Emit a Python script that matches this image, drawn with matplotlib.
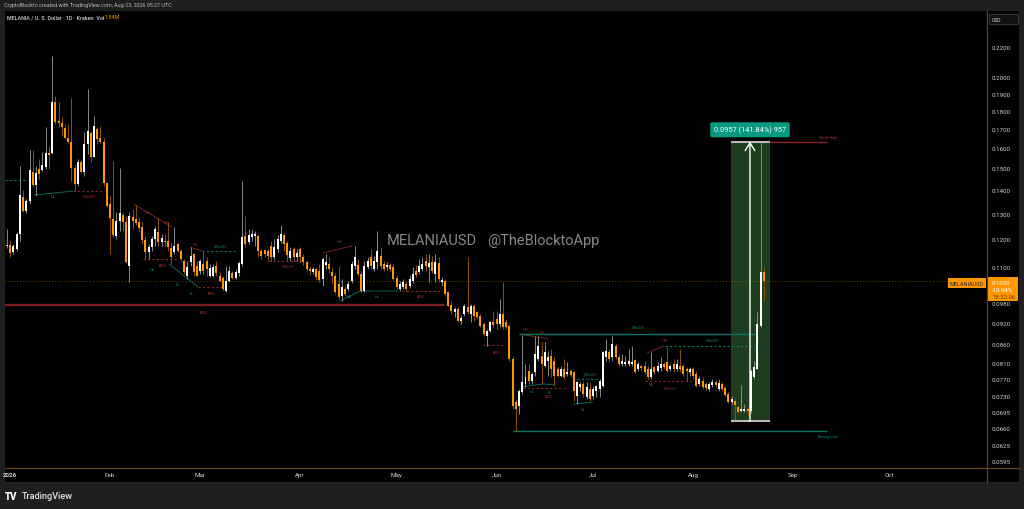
import numpy as np
import pandas as pd
import matplotlib
matplotlib.use('Agg')
import matplotlib.pyplot as plt
import matplotlib.dates as mdates
from matplotlib.patches import Rectangle
from matplotlib.lines import Line2D
from matplotlib.ticker import FixedLocator, FixedFormatter, NullLocator

plt.rcParams['font.family'] = ['Roboto', 'DejaVu Sans']

# ---------------- data ----------------
start_date = '2025-12-31'   # first daily candle
opens = [
    .1174, .1177, .1152, .1163, .1219, .1370, .1311, .1353, .1483, .1423,
    .1497, .1492, .1507, .1575, .1575, .1850, .1742, .1731, .1704, .1651,
    .1630, .1502, .1428, .1531, .1483, .1620, .1677, .1555, .1699, .1651,
    .1630, .1432, .1340, .1278, .1212, .1270, .1295, .1266, .1102, .1287,
    .1278, .1266, .1246, .1196, .1152, .1170, .1200, .1227, .1188, .1192,
    .1192, .1167, .1152, .1181, .1155, .1119, .1067, .1116, .1144, .1102,
    .1084, .1109, .1119, .1067, .1067, .1102, .1067, .1060, .1018, .1051,
    .1077, .1060, .1077, .1109, .1212, .1188, .1208, .1212, .1212, .1155,
    .1159, .1155, .1174, .1133, .1163, .1192, .1215, .1185, .1130, .1163,
    .1133, .1163, .1133, .1116, .1091, .1081, .1091, .1084, .1057, .1105,
    .1109, .1081, .1067, .1041, .1002, .1025, .1025, .1051, .1102, .1105,
    .1074, .1018, .1098, .1133, .1091, .1116, .1137, .1109, .1098, .1105,
    .1098, .1060, .1025, .1031, .1041, .1034, .1051, .1084, .1081, .1091,
    .1119, .1098, .1116, .1074, .1112, .1047, .1051, .1015, .0974, .0953,
    .0962, .0926, .0947, .0968, .0947, .0971, .0953, .0941, .0917, .0883,
    .0897, .0923, .0932, .0917, .0947, .0923, .0911, .0821, .0717, .0708,
    .0740, .0759, .0791, .0766, .0788, .0821, .0829, .0803, .0816, .0829,
    .0816, .0796, .0778, .0796, .0783, .0791, .0788, .0730, .0752, .0759,
    .0728, .0747, .0730, .0742, .0747, .0754, .0826, .0840, .0826, .0856,
    .0826, .0808, .0808, .0808, .0808, .0818, .0796, .0803, .0803, .0796,
    .0776, .0801, .0791, .0798, .0808, .0813, .0796, .0808, .0796, .0803,
    .0803, .0796, .0788, .0796, .0783, .0759, .0766, .0759, .0747, .0757,
    .0764, .0747, .0759, .0749, .0735, .0717, .0719, .0705, .0697, .0697,
    .0701, .0697, .0776, .0796, .0911, .1081,
]
highs = [
    .1238, .1196, .1181, .1227, .1511, .1401, .1362, .1590, .1590, .1511,
    .1545, .1580, .1710, .1610, .2139, .1885, .1850, .1764, .1726, .1726,
    .1874, .1521, .1545, .1540, .1683, .1927, .1688, .1770, .1710, .1715,
    .1651, .1437, .1374, .1535, .1307, .1502, .1307, .1291, .1307, .1319,
    .1336, .1287, .1266, .1212, .1181, .1212, .1250, .1282, .1219, .1219,
    .1266, .1188, .1246, .1188, .1163, .1126, .1119, .1170, .1148, .1119,
    .1126, .1155, .1133, .1109, .1109, .1119, .1081, .1067, .1102, .1102,
    .1084, .1091, .1119, .1441, .1291, .1238, .1238, .1230, .1219, .1163,
    .1163, .1163, .1192, .1200, .1215, .1254, .1223, .1192, .1170, .1170,
    .1163, .1170, .1144, .1123, .1102, .1098, .1098, .1109, .1133, .1144,
    .1133, .1098, .1077, .1102, .1057, .1034, .1051, .1119, .1174, .1126,
    .1084, .1119, .1133, .1163, .1137, .1230, .1170, .1119, .1116, .1112,
    .1109, .1070, .1051, .1057, .1051, .1070, .1098, .1105, .1126, .1133,
    .1144, .1144, .1137, .1144, .1133, .1064, .1057, .1018, .0986, .0968,
    .0968, .0944, .0977, .1133, .0977, .0977, .0956, .0947, .0923, .0903,
    .0926, .0956, .0956, .0993, .1047, .0932, .0917, .0826, .0724, .0747,
    .0886, .0808, .0808, .0788, .0883, .0883, .0867, .0867, .0842, .0848,
    .0826, .0801, .0803, .0821, .0813, .0796, .0791, .0766, .0764, .0766,
    .0764, .0764, .0754, .0757, .0771, .0842, .0875, .0848, .0883, .0861,
    .0834, .0834, .0829, .0848, .0856, .0821, .0813, .0808, .0816, .0803,
    .0840, .0803, .0813, .0826, .0813, .0853, .0808, .0821, .0821, .0848,
    .0808, .0801, .0801, .0801, .0791, .0778, .0776, .0764, .0764, .0771,
    .0769, .0771, .0764, .0754, .0740, .0730, .0724, .0708, .0757, .0712,
    .0703, .0796, .0816, .0953, .1632, .1098,
]
lows = [
    .1167, .1133, .1144, .1155, .1192, .1307, .1303, .1340, .1414, .1374,
    .1450, .1487, .1497, .1497, .1570, .1726, .1710, .1662, .1646, .1625,
    .1441, .1396, .1419, .1478, .1464, .1570, .1531, .1555, .1620, .1625,
    .1419, .1328, .1144, .1208, .1200, .1230, .1230, .1112, .1047, .1238,
    .1254, .1227, .1181, .1126, .1126, .1155, .1174, .1174, .1174, .1174,
    .1155, .1109, .1144, .1152, .1119, .1074, .1057, .1102, .1067, .1064,
    .1074, .1074, .1067, .1064, .1064, .1067, .1047, .1018, .1015, .1047,
    .1057, .1057, .1067, .1102, .1174, .1181, .1192, .1174, .1133, .1126,
    .1133, .1119, .1119, .1123, .1152, .1185, .1155, .1119, .1119, .1119,
    .1119, .1112, .1105, .1084, .1070, .1074, .1054, .1047, .1034, .1091,
    .1077, .1041, .1008, .0993, .0986, .1002, .1018, .1044, .1091, .1067,
    .1015, .1015, .1091, .1091, .1084, .1091, .1091, .1084, .1088, .1084,
    .1054, .1025, .1018, .1025, .1018, .1028, .1044, .1064, .1074, .1084,
    .1084, .1047, .1077, .1047, .1047, .1034, .1002, .0971, .0947, .0938,
    .0923, .0917, .0941, .0947, .0923, .0926, .0932, .0909, .0883, .0856,
    .0894, .0909, .0903, .0909, .0903, .0903, .0816, .0701, .0654, .0690,
    .0735, .0752, .0759, .0759, .0778, .0816, .0759, .0801, .0778, .0776,
    .0754, .0776, .0776, .0771, .0778, .0776, .0719, .0712, .0742, .0728,
    .0724, .0719, .0724, .0728, .0728, .0752, .0816, .0813, .0816, .0821,
    .0803, .0803, .0803, .0803, .0803, .0786, .0791, .0791, .0783, .0771,
    .0771, .0783, .0788, .0791, .0796, .0788, .0791, .0788, .0791, .0788,
    .0778, .0766, .0778, .0771, .0752, .0754, .0747, .0745, .0742, .0752,
    .0752, .0742, .0742, .0730, .0714, .0712, .0675, .0692, .0694, .0694,
    .0686, .0692, .0771, .0796, .0909, .0986,
]
closes = [
    .1177, .1148, .1174, .1219, .1379, .1311, .1353, .1492, .1423, .1478,
    .1473, .1516, .1575, .1565, .1850, .1737, .1731, .1710, .1651, .1630,
    .1502, .1428, .1531, .1483, .1620, .1688, .1555, .1715, .1646, .1630,
    .1432, .1332, .1282, .1215, .1270, .1303, .1266, .1116, .1291, .1270,
    .1262, .1242, .1196, .1152, .1170, .1200, .1238, .1188, .1204, .1188,
    .1170, .1133, .1174, .1155, .1126, .1081, .1098, .1137, .1081, .1067,
    .1119, .1084, .1091, .1095, .1098, .1077, .1051, .1025, .1051, .1084,
    .1060, .1081, .1112, .1208, .1181, .1215, .1219, .1219, .1155, .1137,
    .1144, .1137, .1133, .1170, .1200, .1219, .1181, .1141, .1155, .1133,
    .1148, .1133, .1116, .1091, .1084, .1091, .1064, .1054, .1126, .1116,
    .1091, .1067, .1015, .0999, .1031, .1008, .1041, .1109, .1133, .1074,
    .1018, .1102, .1119, .1102, .1119, .1155, .1102, .1091, .1105, .1091,
    .1057, .1031, .1041, .1047, .1025, .1057, .1074, .1070, .1102, .1109,
    .1102, .1112, .1084, .1116, .1057, .1054, .1008, .0971, .0956, .0962,
    .0926, .0935, .0971, .0953, .0971, .0941, .0938, .0911, .0889, .0897,
    .0923, .0914, .0917, .0947, .0909, .0909, .0821, .0708, .0701, .0742,
    .0764, .0776, .0766, .0783, .0834, .0856, .0808, .0840, .0826, .0796,
    .0778, .0778, .0796, .0776, .0788, .0781, .0742, .0764, .0759, .0735,
    .0752, .0724, .0747, .0754, .0766, .0840, .0842, .0821, .0861, .0826,
    .0808, .0816, .0813, .0816, .0813, .0788, .0808, .0798, .0788, .0776,
    .0796, .0788, .0803, .0808, .0801, .0791, .0803, .0796, .0808, .0796,
    .0783, .0791, .0796, .0778, .0754, .0771, .0752, .0749, .0759, .0764,
    .0757, .0761, .0747, .0733, .0717, .0724, .0710, .0694, .0701, .0701,
    .0697, .0791, .0801, .0917, .1081, .1050,
]

y_ticks = [0.0595, 0.0625, 0.0660, 0.0695, 0.0730, 0.0770, 0.0810, 0.0860,
           0.0920, 0.0980, 0.1100, 0.1200, 0.1300, 0.1400, 0.1500, 0.1600,
           0.1700, 0.1800, 0.1900, 0.2000, 0.2200]
x_tick_dates = ['2026-01-01', '2026-02-01', '2026-03-01', '2026-04-01', '2026-05-01',
                '2026-06-01', '2026-07-01', '2026-08-01', '2026-09-01', '2026-10-01']
x_tick_labels = ['2026', 'Feb', 'Mar', 'Apr', 'May', 'Jun', 'Jul', 'Aug', 'Sep', 'Oct']

last_price = 0.1050
price_change = '-10.94%'
countdown = '18:32:06'
measure_low, measure_high = 0.06747, 0.16317
measure_start, measure_end, measure_mid = 224.8, 237.0, 230.7   # day offsets
measure_text = '0.0957 (141.84%) 957'

# market structure lines: (colour, style, width, [(day offset, price), ...])
struct_lines = [
    ('bos', 'solid', 1.7, [(-0.62, 0.0974), (135.7, 0.0974)]),
    ('teal', 'dash', 0.8, [(-0.62, 0.1446), (5.6, 0.1446)]),
    ('teal', 'solid', 0.6, [(8.4, 0.1379), (20.5, 0.1396)]),
    ('red', 'dash', 0.8, [(20.5, 0.1396), (29.8, 0.1396)]),
    ('red', 'solid', 0.6, [(39.4, 0.1340), (51.2, 0.1246)]),
    ('red', 'dash', 0.8, [(42.2, 0.1126), (53.1, 0.1126)]),
    ('teal', 'solid', 0.6, [(50.3, 0.1109), (59.3, 0.1031)]),
    ('red', 'dash', 0.8, [(59.3, 0.1031), (67.7, 0.1031)]),
    ('red', 'solid', 0.6, [(56.8, 0.1170), (60.6, 0.1155)]),
    ('teal', 'dash', 0.8, [(60.6, 0.1155), (71.4, 0.1155)]),
    ('red', 'solid', 0.6, [(98.1, 0.1148), (107.1, 0.1174)]),
    ('red', 'dash', 0.8, [(81.1, 0.1119), (91.6, 0.1119)]),
    ('teal', 'solid', 0.6, [(103.4, 0.0986), (109.6, 0.1018), (121.1, 0.1018)]),
    ('red', 'dash', 0.8, [(122.7, 0.1018), (134.5, 0.1018)]),
    ('red', 'dash', 0.8, [(147.8, 0.0858), (154.7, 0.0858)]),
    ('red', 'solid', 0.6, [(159.0, 0.0889), (168.0, 0.0875)]),
    ('teal', 'solid', 1.0, [(159.0, 0.0889), (232.3, 0.0889)]),
    ('teal', 'solid', 0.6, [(160.2, 0.0752), (166.5, 0.0759), (170.2, 0.0757)]),
    ('red', 'dash', 0.8, [(160.2, 0.0749), (174.2, 0.0749)]),
    ('teal', 'dash', 0.8, [(177.0, 0.0771), (183.9, 0.0771)]),
    ('teal', 'solid', 0.6, [(175.8, 0.0712), (182.0, 0.0717)]),
    ('red', 'solid', 0.6, [(198.8, 0.0837), (204.0, 0.0856)]),
    ('teal', 'dash', 0.8, [(204.3, 0.0856), (232.3, 0.0856)]),
    ('red', 'dash', 0.8, [(198.1, 0.0766), (212.7, 0.0766)]),
    ('red', 'solid', 1.0, [(237.0, 0.1632), (254.7, 0.1632)]),
    ('teal', 'solid', 1.0, [(157.1, 0.0654), (254.7, 0.0654)]),
]
struct_labels = [
    ('BOS', 60.9, 0.0953, 'red'), ('HL', 14.3, 0.1374, 'teal'), ('CHoCH', 25.5, 0.1374, 'red'),
    ('HH', 43.5, 0.1307, 'red'), ('LH', 49.4, 0.1266, 'red'), ('BOS', 48.4, 0.1105, 'red'),
    ('HL', 45.0, 0.1092, 'teal'), ('LL', 53.1, 0.1041, 'teal'), ('LL', 57.5, 0.1012, 'teal'),
    ('BOS', 63.4, 0.1012, 'red'), ('LH', 58.4, 0.1180, 'red'), ('CHoCH', 66.1, 0.1174, 'teal'),
    ('HH', 103.1, 0.1192, 'red'), ('CHoCH', 87.3, 0.1102, 'red'), ('HL', 106.2, 0.1002, 'teal'),
    ('HL', 114.9, 0.1002, 'teal'), ('BOS', 128.3, 0.1002, 'red'), ('BOS', 151.9, 0.0840, 'red'),
    ('HH', 160.9, 0.0902, 'red'), ('LH', 166.1, 0.0893, 'red'), ('CHoCH', 196.0, 0.0909, 'teal'),
    ('HL', 163.0, 0.0743, 'teal'), ('LL', 168.5, 0.0741, 'teal'), ('BOS', 168.0, 0.0731, 'red'),
    ('CHoCH', 181.0, 0.0783, 'teal'), ('HL', 178.9, 0.0701, 'teal'), ('HH', 204.0, 0.0872, 'red'),
    ('CHoCH', 219.0, 0.0872, 'teal'), ('CHoCH', 205.9, 0.0749, 'red'), ('HL', 200.0, 0.0760, 'teal'),
    ('Weak High', 255.0, 0.1655, 'red'), ('Strong Low', 255.0, 0.0644, 'teal'),
]

# ---------------- styling ----------------
BG = '#1f1f1f'
AXIS_LINE = '#6b4510'
TXT = '#d1d4dc'
UP_BODY, UP_WICK = '#ffffff', '#8a8a8a'
DN_BODY, DN_WICK = '#ff9800', '#8c5300'
LINE_COL = {'red': '#8f2428', 'teal': '#0c7564', 'bos': '#7d1c20'}
LABEL_COL = {'red': '#b0303a', 'teal': '#0e9a80'}
STYLE = {'solid': '-', 'dash': (0, (2, 2))}

W, H = 1024, 510
fig = plt.figure(figsize=(W / 100, H / 100), dpi=100, facecolor=BG)


def fx(px):
    return px / W


def fy(py):
    return 1 - py / H


fig.add_artist(Rectangle((fx(5), fy(483)), fx(1019) - fx(5), fy(12) - fy(483),
                         transform=fig.transFigure, facecolor='black',
                         edgecolor='none', zorder=-5))

ax = fig.add_axes([fx(5), fy(469), fx(987) - fx(5), fy(12) - fy(469)])
ax.set_facecolor('black')

dates = pd.date_range(start_date, periods=len(closes), freq='D')
x = mdates.date2num(dates)
x0 = mdates.date2num(pd.Timestamp(start_date))
o, h, l, c = (np.array(v) for v in (opens, highs, lows, closes))
up = c >= o
body_low = np.minimum(o, c)
body_h = np.maximum(np.abs(c - o), body_low * 0.004)

ax.set_yscale('log')

# measurement box (behind candles)
ax.add_patch(Rectangle((x0 + measure_start, measure_low), measure_end - measure_start,
                       measure_high - measure_low, facecolor='#1e3d1f',
                       edgecolor='none', zorder=1))

# structure lines
for col, sty, lw, pts in struct_lines:
    px_ = [x0 + p[0] for p in pts]
    py_ = [p[1] for p in pts]
    ax.plot(px_, py_, color=LINE_COL[col], lw=lw, ls=STYLE[sty], zorder=2,
            solid_capstyle='butt')
for txt, d, p, col in struct_labels:
    ax.text(x0 + d, p, txt, color=LABEL_COL[col], fontsize=2.8, ha='center',
            va='center', zorder=2)

# last price line
ax.axhline(last_price, color='#ff9800', lw=0.6, ls=(0, (1, 2.5)), alpha=0.55, zorder=2)

# candles
ax.vlines(x[up], l[up], h[up], color=UP_WICK, lw=0.7, zorder=3)
ax.vlines(x[~up], l[~up], h[~up], color=DN_WICK, lw=0.7, zorder=3)
ax.bar(x[up], body_h[up], bottom=body_low[up], width=0.62, color=UP_BODY,
       linewidth=0, zorder=4)
ax.bar(x[~up], body_h[~up], bottom=body_low[~up], width=0.62, color=DN_BODY,
       linewidth=0, zorder=4)

# measurement edges, arrow and label
ax.hlines([measure_low, measure_high], x0 + measure_start, x0 + measure_end,
          color='#b8b8b8', lw=1.5, zorder=5)
ax.annotate('', xy=(x0 + measure_mid, measure_high), xytext=(x0 + measure_mid, measure_low),
            arrowprops=dict(arrowstyle='->,head_length=0.55,head_width=0.35',
                            color='white', lw=1.0, shrinkA=0, shrinkB=0), zorder=6)
ax.annotate(measure_text, xy=(x0 + measure_mid, measure_high), xytext=(0, 8.6),
            textcoords='offset points', ha='center', va='center', fontsize=5.3,
            color='white', zorder=7,
            bbox=dict(boxstyle='round,pad=0.5,rounding_size=0.25', fc='#089981', ec='none'))

# axes
ax.set_xlim(x0 - 0.62, x0 + 304.3)
ax.set_ylim(0.0582, 0.2466)
ax.yaxis.tick_right()
ax.yaxis.set_major_locator(FixedLocator(y_ticks))
ax.yaxis.set_major_formatter(FixedFormatter([f'{v:.4f}' for v in y_ticks]))
ax.yaxis.set_minor_locator(NullLocator())
ax.yaxis.set_minor_formatter(FixedFormatter([]))
ax.set_xticks(mdates.date2num(pd.to_datetime(x_tick_dates)))
ax.set_xticklabels(x_tick_labels)
ax.xaxis.set_minor_locator(NullLocator())
ax.tick_params(axis='y', length=0, pad=3.2, labelsize=4.4, labelcolor=TXT)
ax.tick_params(axis='x', length=0, pad=3.0, labelsize=4.5, labelcolor=TXT)
ax.get_xticklabels()[0].set_fontweight('bold')
for s in ax.spines.values():
    s.set_visible(False)

fig.add_artist(Line2D([fx(987), fx(987)], [fy(12), fy(483)], transform=fig.transFigure,
                      color=AXIS_LINE, lw=0.9))
fig.add_artist(Line2D([fx(5), fx(1019)], [fy(469), fy(469)], transform=fig.transFigure,
                      color=AXIS_LINE, lw=0.9))

# header and legend
fig.text(fx(4), fy(6), 'CryptoBlockto created with TradingView.com, Aug 23, 2026 05:27 UTC',
         fontsize=3.9, color='#b2b5be', va='center', ha='left')
leg = fig.text(fx(7), fy(17.5), 'MELANIA / U. S. Dollar · 1D · Kraken  Vol',
               fontsize=3.9, color=TXT, va='center', ha='left', fontweight='medium')
renderer = fig.canvas.get_renderer()
bb = leg.get_window_extent(renderer)
fig.text(bb.x1 / W + 0.5 / W, fy(17.5), '1.54M', fontsize=3.9, color='#ff9800',
         va='center', ha='left')

# watermark
fig.text(fx(387), fy(241), 'MELANIAUSD', fontsize=10.5, color='#85888f', va='center', ha='left')
fig.text(fx(487), fy(241), '@TheBlocktoApp', fontsize=10.5, color='#85888f', va='center', ha='left')

# price axis boxes
fig.add_artist(Rectangle((fx(989), fy(25)), fx(1018) - fx(989), fy(15) - fy(25),
                         transform=fig.transFigure, facecolor='#121212',
                         edgecolor='#3a3a3a', lw=0.6))
fig.text(fx(992), fy(20), 'USD', fontsize=3.6, color=TXT, va='center', ha='left')

fig.add_artist(Rectangle((fx(948), fy(289)), fx(986) - fx(948), fy(279) - fy(289),
                         transform=fig.transFigure, facecolor='#ff9800', edgecolor='none'))
fig.text(fx(967), fy(284), 'MELANIAUSD', fontsize=4.0, color='#2a2a2a', va='center', ha='center')
fig.add_artist(Rectangle((fx(988), fy(302)), fx(1018) - fx(988), fy(278) - fy(302),
                         transform=fig.transFigure, facecolor='#ff9800', edgecolor='none'))
fig.text(fx(992), fy(283.5), f'{last_price:.4f}', fontsize=4.3, color='white', va='center', ha='left')
fig.text(fx(992), fy(290.5), price_change, fontsize=4.3, color='white', va='center', ha='left')
fig.text(fx(992), fy(297.5), countdown, fontsize=4.3, color='#6b3d00', va='center', ha='left')

# footer logo
fig.text(fx(5), fy(497), 'TV', fontsize=7, color='white', va='center', ha='left',
         fontweight='heavy')
fig.text(fx(22), fy(497), 'TradingView', fontsize=6.6, color='#e0e3eb', va='center', ha='left',
         fontweight='medium')

fig.savefig('out.png', dpi=100, facecolor=BG)
